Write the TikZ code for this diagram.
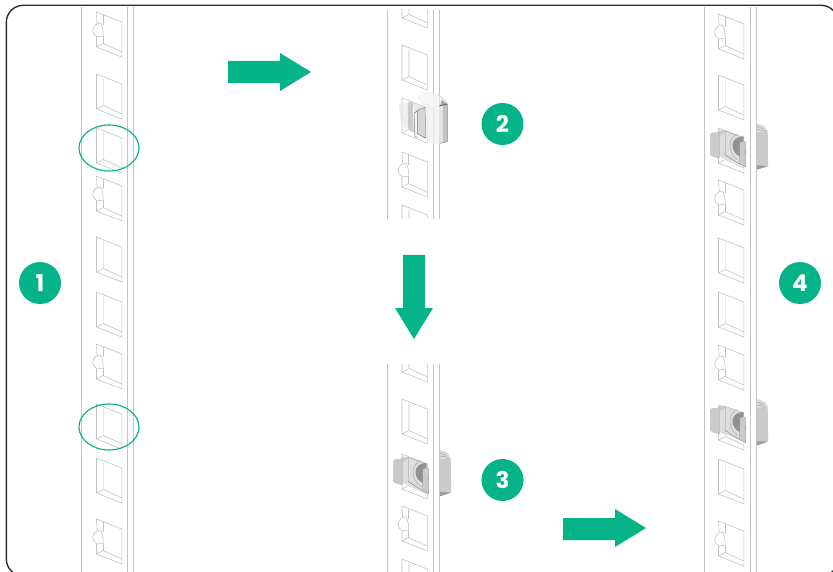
\documentclass[tikz,border=0pt]{standalone}
\usepackage{fontspec}
\setmainfont{Poppins}
\definecolor{hpegreen}{HTML}{05B388}
\definecolor{railgrey}{HTML}{C4C4C4}
\definecolor{winline}{HTML}{C2C2C2}
\definecolor{clipfill}{HTML}{CACACA}
\definecolor{clipplate}{HTML}{DEDEDE}
\definecolor{clipdark}{HTML}{929292}
\tikzset{
  railline/.style={draw=railgrey,line width=0.85pt},
  winedge/.style={draw=winline,line width=0.6pt},
  winband/.style={draw=black!9,line width=1.3pt},
  badge/.style={circle,fill=hpegreen,text=white,minimum size=42pt,inner sep=0pt,font=\fontsize{23}{23}\selectfont\bfseries},
  goarrow/.style={fill=hpegreen,draw=none},
  ringmark/.style={draw=hpegreen,line width=1.15pt},
  frameline/.style={draw=black!82,line width=1.4pt,rounded corners=17pt}
}
% plain window; #1 = x, #2 = y of the top-left corner
\newcommand{\winplain}[2]{\begin{scope}[shift={(#1,#2)}]
  \draw[winband] (7,4) -- (7,31);
  \draw[winedge] (0,0) -- (25.3,10) -- (25.3,45) -- (0,35) -- cycle;
  \draw[winedge] (0,35) -- (7,31.5) -- (25.3,40);
\end{scope}}
% window with a notch in its left edge
\newcommand{\winnotch}[2]{\begin{scope}[shift={(#1,#2)}]
  \draw[winedge] (0.6,11.6) -- (0,0) -- (25.3,10) -- (25.3,45) -- (0,35) -- (0,25);
  \draw[winedge] (4,10.8) -- (0.6,11.8) .. controls (-2.4,13.5) and (-4,16) .. (-3.8,18.5) .. controls (-3.6,21) and (-2.7,22.5) .. (-1.4,23.4) -- (1,25) -- (6.6,24);
  \draw[winedge] (4,10.8) .. controls (6,14) and (6.8,19) .. (6.6,24);
  \draw[winedge] (6.6,3) -- (6.6,13);
  \draw[winedge] (6.6,24) -- (6.6,31.5);
  \draw[winedge] (0,35) -- (6.6,31.5) -- (25.3,40);
\end{scope}}
\newcommand{\railedges}[3]{%
  \draw[railline] (#1,#2) -- (#1,#3);
  \draw[railline] (#1+46,#2) -- (#1+46,#3);
  \draw[railline] (#1+52.3,#2) -- (#1+52.3,#3);}
% seated clip; #1 = rail x, #2 = reference y
\newcommand{\clipseated}[2]{\begin{scope}[shift={(#1,#2)}]
  % part behind the rail
  \fill[black!38] (52.6,37) -- (63.5,38.5) -- (60.5,39.8) -- (52.6,42.3) -- cycle;
  \fill[black!14] (52.6,-4) -- (60,-1.5) -- (63.2,3.3) -- (52.6,5.3) -- cycle;
  \draw[black!40,line width=0.4pt] (52.6,-1) -- (59,1.5) (52.6,2) -- (61,3.4);
  \fill[clipfill] (52.6,5.3) -- (63.2,3.3) -- (63.6,38.7) -- (52.6,37.7) -- cycle;
  % plate
  \fill[clipplate] (14.2,2) -- (39,10) -- (39,37) -- (35,36.7) -- (14.2,29) -- cycle;
  \draw[black!40,line width=0.4pt] (21,3.6) -- (39,10);
  \draw[black!50,line width=0.4pt] (20,27) -- (35,36.7);
  % dark crescent
  \fill[clipdark] (39,9) .. controls (32,9) and (28,13) .. (28,18) .. controls (28,23) and (31,27) .. (35.4,29) -- (35.4,15) -- (39,13.6) -- cycle;
  \draw[black!32,line width=0.5pt] (33,6.2) .. controls (28,9) and (25.5,13.5) .. (25.5,18) .. controls (25.5,23) and (28,29) .. (33,32.5);
  % right tab
  \fill[clipfill,draw=black!48,line width=0.3pt] (35.2,15) -- (38.6,13.6) -- (41,15) -- (41.3,39.6) -- (35.2,36.9) -- cycle;
  % left flap
  \fill[clipfill,draw=black!25,line width=0.3pt,rounded corners=1.5pt] (5.8,5.5) -- (14.2,5) -- (15.5,3.6) -- (21,2.6) -- (21,5) -- (15.5,6.5) -- (14.4,31) -- (7,28.5) -- (5.8,26.5) -- cycle;
  \draw[winedge] (14.3,5) -- (14.3,31);
  \draw[winedge] (21,3.4) -- (21,27);
\end{scope}}
\begin{document}
\begin{tikzpicture}[x=1pt,y=-1pt]
\useasboundingbox (0,0) rectangle (833,572);
\begin{scope}
\clip (0,0) rectangle (833,572);
\draw[frameline] (6.3,5.3) rectangle (838,576);
\end{scope}
% rail 1
\begin{scope}
\clip (70,7) rectangle (150,572);
\railedges{81.5}{7}{572}
\winnotch{96.5}{12}\winplain{96.5}{74}\winplain{96.5}{128}\winnotch{96.5}{176}\winplain{96.5}{237}
\winplain{96.5}{292}\winnotch{96.5}{344}\winplain{96.5}{404}\winplain{96.5}{458}\winnotch{96.5}{519}
\end{scope}
\draw[ringmark] (109,148) ellipse (30 and 23);
\draw[ringmark] (109,427) ellipse (30 and 23);
% rail 2
\begin{scope}
\clip (380,10) rectangle (450,219);
\railedges{387.5}{10}{219}
\winplain{402}{-17}\winplain{402}{45}\winplain{402}{98}\winnotch{402}{152}\winplain{402}{205}
\end{scope}
% clip being inserted
\begin{scope}[shift={(370,0)}]
\fill[black!6,fill opacity=0.7] (46.7,96.7) -- (58.3,91.7) -- (68.3,94) -- (77.3,101.7) -- (77.3,141.7) -- (63.3,145) -- (56.7,138.3) -- (55,107.5) -- cycle;
\fill[black!3,fill opacity=0.7] (46.7,96.7) -- (58.3,91.7) -- (65,98) -- (65,107) -- (53,103) -- cycle;
\fill[black!9,fill opacity=0.7] (28.3,103.3) -- (37.7,101.7) -- (38.3,128) -- (31.7,126.7) -- cycle;
\fill[black!22,fill opacity=0.9] (37.7,102.7) -- (42.7,101.7) -- (43.7,133) -- (38.3,128.3) -- cycle;
\fill[black!10,fill opacity=0.8] (43,103) -- (55,107.3) -- (48.3,110) -- (44,113.3) -- cycle;
\fill[black!4] (44,113.3) -- (47.7,111) -- (47.7,137.3) -- (45,136.7) -- cycle;
\fill[black!16] (47.7,111) -- (55,107.3) -- (56,138.3) -- (47.7,134) -- cycle;
\fill[black!11] (70,106) -- (73,105.2) -- (73,142.8) -- (70,143.3) -- cycle;
\fill[black!24] (73,105.2) -- (77.3,104) -- (77.3,141.7) -- (73,142.8) -- cycle;
\fill[black!35] (71.7,100) -- (77.3,104) -- (70,106) -- cycle;
\draw[black!55,line width=0.5pt] (44,113.3) -- (48.3,110) -- (55,107.3);
\draw[black!55,line width=0.5pt] (44,113.3) -- (45,136.7) -- (47.7,137.3);
\draw[black!55,line width=0.5pt] (47.7,111) -- (47.7,134) -- (56,138.3);
\draw[black!45,line width=0.5pt] (55,107.3) -- (56,138.3);
\draw[black!65,line width=0.7pt] (69.3,106) -- (77.3,104);
\draw[black!45,line width=0.5pt] (77.3,104) -- (77.3,141.7) -- (70,143.3);
\draw[black!25,line width=0.4pt] (68.3,94) -- (77.3,103);
\end{scope}
% rail 3
\begin{scope}
\clip (380,364) rectangle (450,572);
\railedges{387.5}{364}{572}
\winplain{402}{337}\winplain{402}{399}\winplain{402}{454}\winnotch{402}{506}\winplain{402}{559}
\end{scope}
\clipseated{387.5}{454}
% rail 4
\begin{scope}
\clip (695,7) rectangle (770,572);
\railedges{704.5}{7}{572}
\winnotch{718.5}{14}\winplain{718.5}{75}\winplain{718.5}{128}\winnotch{718.5}{180}\winplain{718.5}{238}
\winplain{718.5}{292}\winnotch{718.5}{345}\winplain{718.5}{405}\winplain{718.5}{459}\winnotch{718.5}{521}
\end{scope}
\clipseated{704.5}{127.4}
\clipseated{704.5}{403}
% arrows
\fill[goarrow] (228,61) -- (280,61) -- (280,53) -- (311,72) -- (280,91) -- (280,83) -- (228,83) -- cycle;
\fill[goarrow] (403,255) -- (425,255) -- (425,308) -- (433,308) -- (414,339) -- (395,308) -- (403,308) -- cycle;
\fill[goarrow] (563,518) -- (615,518) -- (615,509) -- (646,528) -- (615,547) -- (615,540) -- (563,540) -- cycle;
% badges
\node[badge] (n1) at (40,283) {1};
\node[badge] (n2) at (502.5,124) {2};
\node[badge] (n3) at (502.5,480) {3};
\node[badge] (n4) at (800,283) {4};
\end{tikzpicture}
\end{document}
